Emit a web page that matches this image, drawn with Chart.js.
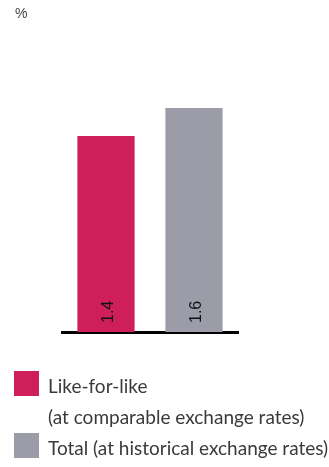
<!DOCTYPE html>
<html>
<head>
<meta charset="utf-8">
<script src="https://cdn.jsdelivr.net/npm/chart.js@4.4.0/dist/chart.umd.min.js"></script>
<style>
  html, body { margin: 0; padding: 0; background: #fff; }
  canvas { display: block; }
</style>
</head>
<body>
<canvas id="grafica" width="329" height="467"></canvas>
<script type="text/javascript">

    // Series y valores
    var series = ['Like-for-like', 'Total'];
    var leyendas = [['Like-for-like', '(at comparable exchange rates)'], ['Total (at historical exchange rates)']];
    var valores = [1.4, 1.6];
    var colores = ['#cf1f5b', '#9b9ca8'];
    var unidad = '%';
    var yMax = 2;

    var canvas = document.getElementById('grafica');
    var context = canvas.getContext('2d');

    var datos = {
        labels: [''],
        datasets: series.map(function (s, i) {
            return {
                label: s,
                data: [valores[i]],
                backgroundColor: colores[i],
                barPercentage: 0.65,
                categoryPercentage: 1
            };
        })
    };

    // unidad, valores rotados dentro de las barras y leyenda de varias lineas
    var etiquetas = {
        id: 'etiquetas',
        afterDatasetsDraw: function (chart) {
            var ctx = chart.ctx;
            ctx.save();

            ctx.fillStyle = '#444';
            ctx.font = '14px "Liberation Sans", Arial, sans-serif';
            ctx.textBaseline = 'top';
            ctx.fillText(unidad, 15, 7);

            ctx.fillStyle = '#111';
            ctx.font = '16px "Liberation Sans", Arial, sans-serif';
            chart.data.datasets.forEach(function (ds, i) {
                var bar = chart.getDatasetMeta(i).data[0];
                ctx.save();
                ctx.translate(bar.x + 3, bar.base - 9);
                ctx.rotate(-Math.PI / 2);
                ctx.textAlign = 'left';
                ctx.textBaseline = 'middle';
                ctx.fillText(ds.data[0].toFixed(1), 0, 0);
                ctx.restore();
            });

            ctx.font = '19px Lato, sans-serif';
            ctx.textBaseline = 'alphabetic';
            var linea = 393;
            chart.data.datasets.forEach(function (ds, i) {
                ctx.fillStyle = ds.backgroundColor;
                ctx.fillRect(14, linea - 22, 25, 25);
                ctx.fillStyle = '#3a3a3a';
                leyendas[i].forEach(function (txt) {
                    ctx.fillText(txt, 48, linea);
                    linea += 31;
                });
            });
            ctx.restore();
        }
    };

    window.bar = new Chart(context, {
        type: 'bar',
        data: datos,
        plugins: [etiquetas],
        options: {
            responsive: false,
            animation: false,
            layout: { padding: { top: 52, bottom: 135, left: 62, right: 91 } },
            plugins: {
                legend: { display: false },
                tooltip: { enabled: false },
                title: { display: false }
            },
            scales: {
                x: {
                    grid: { display: false, drawTicks: false },
                    ticks: { display: false },
                    border: { color: '#000', width: 3 }
                },
                y: {
                    display: false,
                    min: 0,
                    max: yMax
                }
            }
        }
    });

</script>
</body>
</html>
